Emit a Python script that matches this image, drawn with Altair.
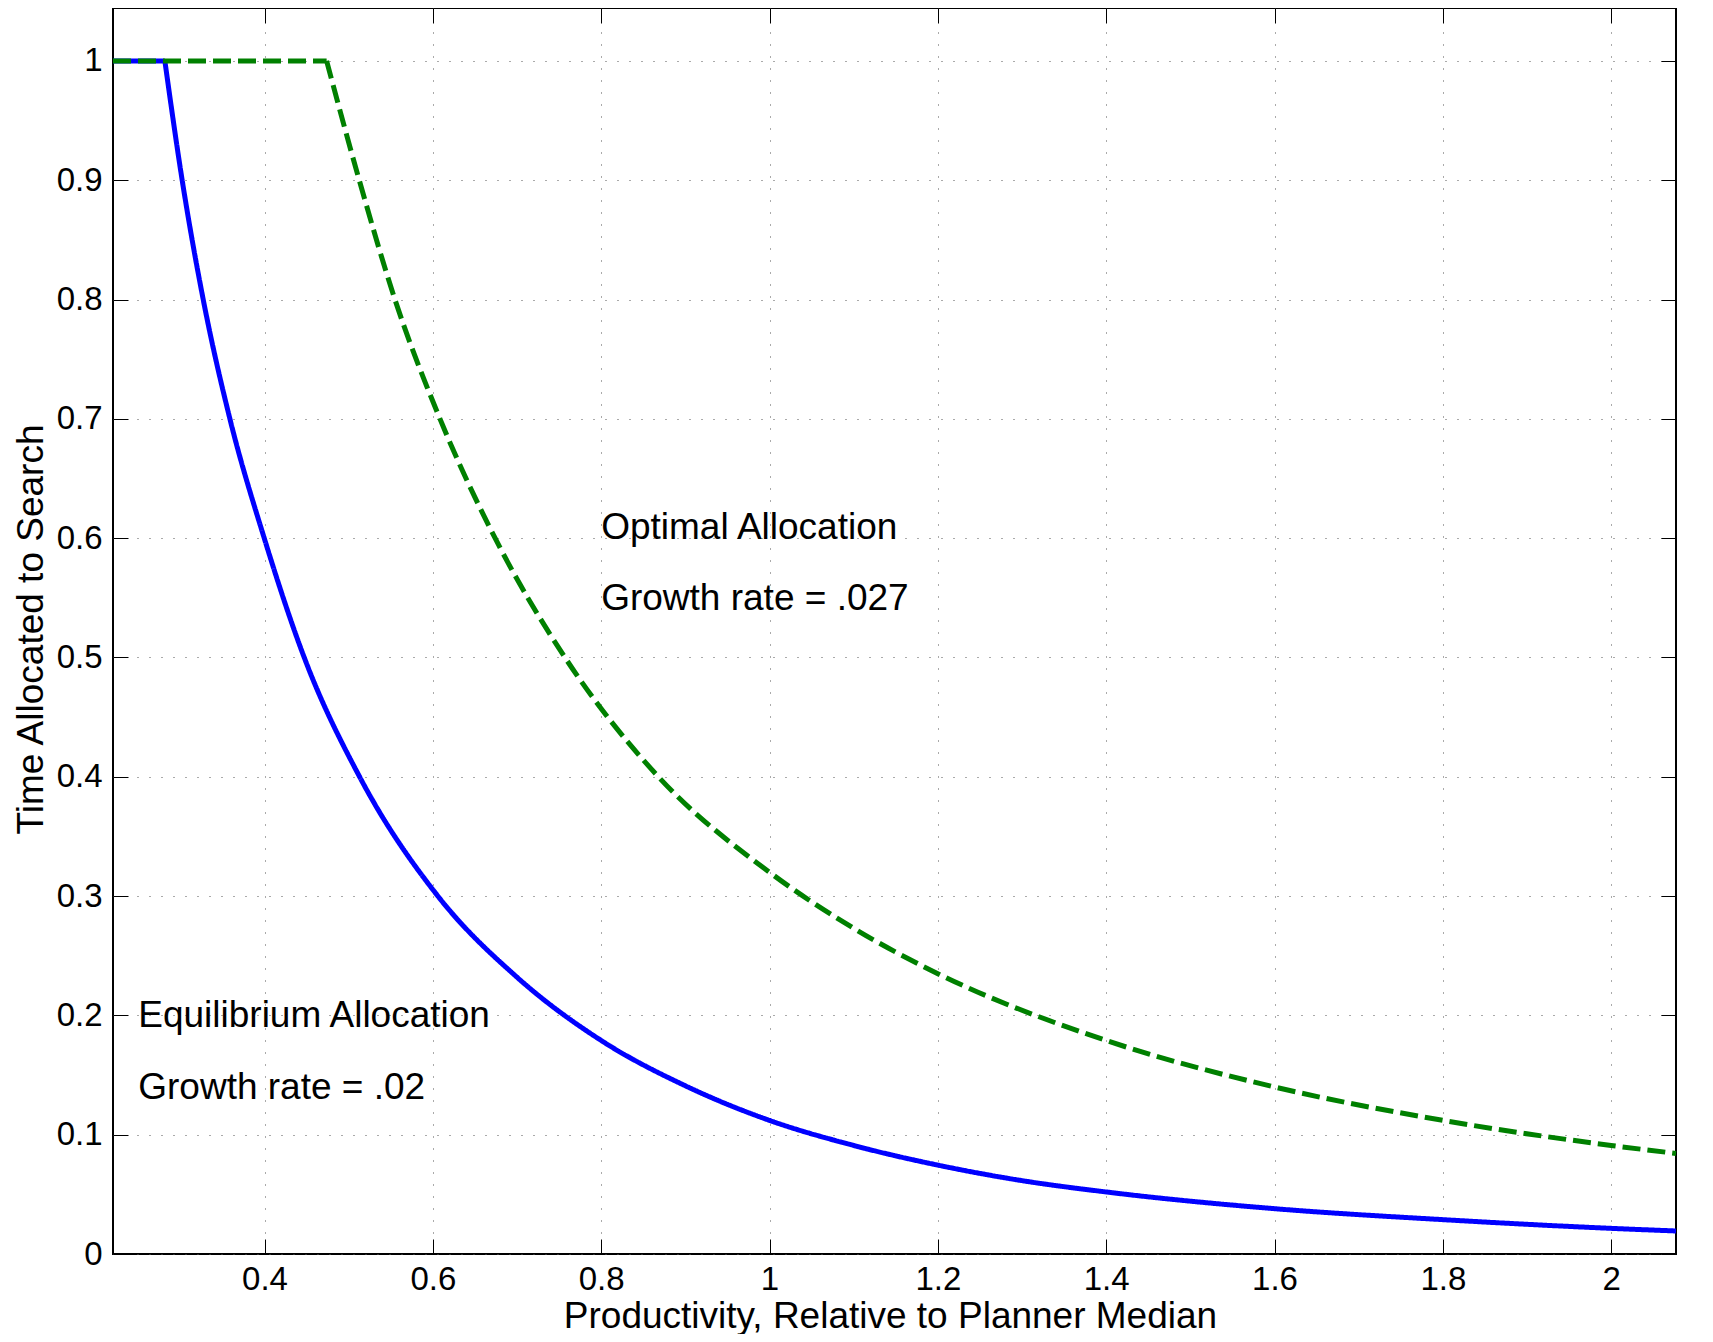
import altair as alt
import pandas as pd

# ---- data ----
eq_x = [0.22, 0.2816, 0.3022, 0.3272, 0.3589, 0.3997, 0.4472, 0.513, 0.606,
        0.70, 0.80, 0.90, 1.0, 1.1, 1.2, 1.3, 1.4, 1.6, 1.8, 2.0, 2.077]
eq_y = [1.0, 1.0, 0.9, 0.8, 0.7, 0.6, 0.5, 0.4, 0.3,
        0.232, 0.179, 0.141, 0.112, 0.091, 0.0745, 0.0615, 0.052, 0.038, 0.0288, 0.0215, 0.0193]

opt_x = [0.22, 0.4738, 0.5126, 0.555, 0.6085, 0.674, 0.757, 0.868, 1.0,
         1.1, 1.2, 1.4, 1.6, 1.8, 2.0, 2.077]
opt_y = [1.0, 1.0, 0.9, 0.8, 0.7, 0.6, 0.5, 0.4, 0.32,
         0.273, 0.235, 0.179, 0.14, 0.112, 0.091, 0.0843]

series_names = ["Equilibrium", "Optimal"]
series_colors = ["#0000ff", "#008000"]

x_ticks = [0.4, 0.6, 0.8, 1.0, 1.2, 1.4, 1.6, 1.8, 2.0]
y_ticks = [0, 0.1, 0.2, 0.3, 0.4, 0.5, 0.6, 0.7, 0.8, 0.9, 1.0]

ann_x = [0.8, 0.8, 0.25, 0.25]
ann_y = [0.599, 0.54, 0.19, 0.13]
ann_text = ["Optimal Allocation", "Growth rate = .027",
            "Equilibrium Allocation", "Growth rate = .02"]

x_title = "Productivity, Relative to Planner Median"
y_title = "Time Allocated to Search"

# ---- tables ----
rows = []
for name, xs, ys in [(series_names[0], eq_x, eq_y), (series_names[1], opt_x, opt_y)]:
    for i, (xv, yv) in enumerate(zip(xs, ys)):
        if i <= 1:
            rows.append(dict(series=name, seg=name + "_flat", x=xv, y=yv, o=i))
        if i >= 1:
            rows.append(dict(series=name, seg=name + "_curve", x=xv, y=yv, o=i))
df = pd.DataFrame(rows)
ann = pd.DataFrame(dict(x=ann_x, y=ann_y, t=ann_text))

FONT = "Liberation Sans"
W, H = 1563, 1246
xscale = alt.Scale(domain=[0.22, 2.077], nice=False, zero=False)
yscale = alt.Scale(domain=[0, 1.0444], nice=False, zero=False)

grid_kw = dict(grid=True, gridColor="#555555", gridDash=[1, 11], gridWidth=1)
tick_kw = dict(tickSize=15, tickColor="black", tickWidth=1, domain=False)

x_main = alt.Axis(orient="bottom", offset=-15, values=x_ticks, format="~g",
                  labelFont=FONT, labelFontSize=33, labelColor="black",
                  labelBaseline="alphabetic", labelPadding=35, labelFlush=False,
                  labelOverlap=False,
                  title=x_title, titleFont=FONT, titleFontSize=37,
                  titleFontWeight="normal", titleColor="black",
                  titleX=777, titleY=88, titleBaseline="alphabetic", titleAlign="center",
                  **grid_kw, **tick_kw)
y_main = alt.Axis(orient="left", offset=-15, values=y_ticks, format="~g",
                  labelFont=FONT, labelFontSize=33, labelColor="black",
                  labelBaseline="middle", labelPadding=11, labelFlush=False,
                  labelOverlap=False,
                  title=y_title, titleFont=FONT, titleFontSize=37,
                  titleFontWeight="normal", titleColor="black",
                  titleX=-86, titleY=621, titleAngle=270,
                  titleBaseline="alphabetic", titleAlign="center",
                  **grid_kw, **tick_kw)
x_top = alt.Axis(orient="top", offset=-15, values=x_ticks, labels=False,
                 grid=False, title=None, **tick_kw)
y_right = alt.Axis(orient="right", offset=-15, values=y_ticks, labels=False,
                   grid=False, title=None, **tick_kw)

lines = alt.Chart(df).mark_line(strokeWidth=5, interpolate="monotone").encode(
    x=alt.X("x:Q", scale=xscale, axis=x_main),
    y=alt.Y("y:Q", scale=yscale, axis=y_main),
    color=alt.Color("series:N", scale=alt.Scale(domain=series_names, range=series_colors), legend=None),
    strokeDash=alt.StrokeDash("series:N", scale=alt.Scale(domain=series_names, range=[[1, 0], [18, 7]]), legend=None),
    detail="seg:N",
    order="o:Q",
)

ticks_layer = alt.Chart(df).mark_point(opacity=0).encode(
    x=alt.X("x:Q", scale=xscale, axis=x_top),
    y=alt.Y("y:Q", scale=yscale, axis=y_right),
)

texts = alt.Chart(ann).mark_text(align="left", baseline="alphabetic", font=FONT,
                                 fontSize=37, color="black").encode(
    x=alt.X("x:Q", scale=xscale, axis=None),
    y=alt.Y("y:Q", scale=yscale, axis=None),
    text="t:N",
)

chart = alt.layer(lines, ticks_layer, texts).resolve_axis(
    x="independent", y="independent"
).properties(
    width=W, height=H,
    autosize=alt.AutoSizeParams(type="none"),
    padding={"left": 105, "top": 0, "right": 29, "bottom": 80},
    background="white",
).configure_view(stroke="black", strokeWidth=2)

chart.save("out.html", embed_options={"renderer": "svg", "actions": False})
